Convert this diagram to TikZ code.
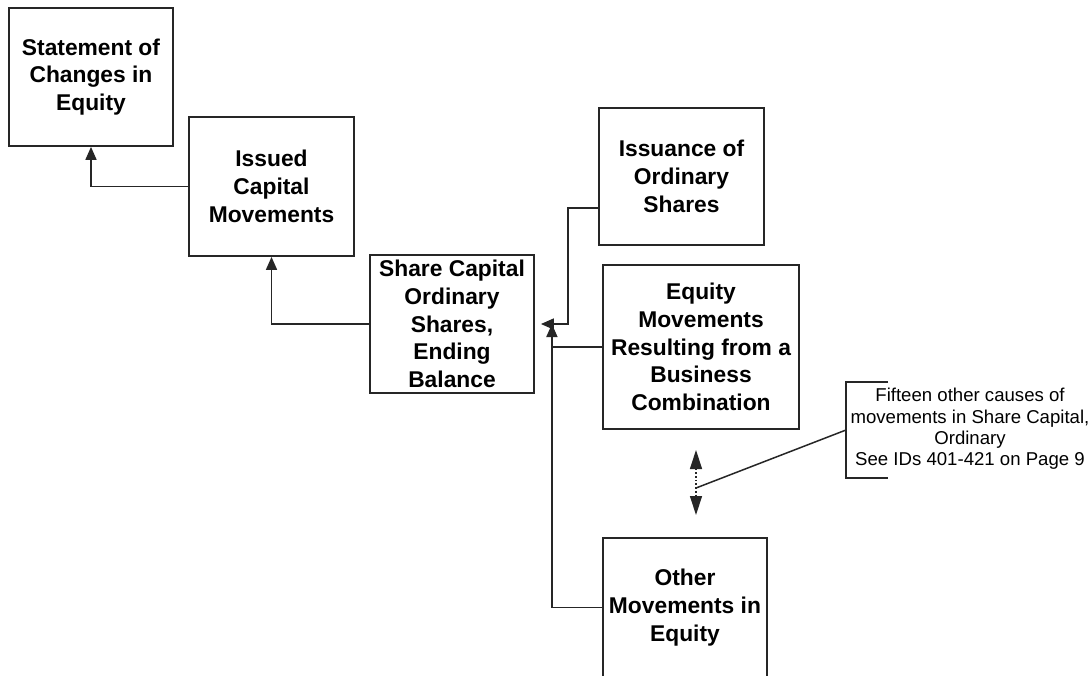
\documentclass[tikz,border=0pt]{standalone}
\usepackage{fontspec}
\setmainfont{Liberation Sans}
\usetikzlibrary{arrows.meta}
\tikzset{
  bighead/.tip={Triangle[length=13pt,width=11pt]},
  longhead/.tip={Triangle[length=19pt,width=12pt]},
}
\begin{document}
\begin{tikzpicture}[x=1pt,y=-1pt,
  box/.style={draw=black!85, line width=1.8pt, inner sep=0pt, align=center,
    font=\bfseries\fontsize{22.8}{27.8}\selectfont},
  link/.style={draw=black!85, line width=1.7pt},
  arr/.style={link, -bighead},
  note/.style={inner sep=0pt, align=center, font=\fontsize{18.6}{21.3}\selectfont},
]
\clip (0,0) rectangle (1092,675);
\fill[white] (0,0) rectangle (1092,675);

% boxes
\node[box, minimum width=164pt, minimum height=138pt] (stmt) at (91,77)
  {Statement of\\Changes in\\Equity};
\node[box, minimum width=165pt, minimum height=139pt] (issued) at (271.5,186.5)
  {Issued\\Capital\\Movements};
\node[box, minimum width=164pt, minimum height=138pt] (share) at (452,324)
  {Share Capital\\Ordinary\\Shares,\\Ending\\Balance};
\node[box, minimum width=165pt, minimum height=137pt] (issuance) at (681.5,176.5)
  {Issuance of\\Ordinary\\Shares};
\node[box, minimum width=196pt, minimum height=164pt] (equity) at (701,347)
  {Equity\\Movements\\Resulting from a\\Business\\Combination};
\node[box, minimum width=164pt, minimum height=139pt] (other) at (685,607.5)
  {Other\\Movements in\\Equity};

% roll-up connectors
\draw[arr] (issued.west) -| (stmt.south);
\draw[arr] (share.west) -| (issued.south);
\coordinate (joinL) at ([xshift=6pt]share.east);
\coordinate (joinU) at ([xshift=17pt]share.east);
\draw[arr] ([yshift=-31.5pt]issuance.west) -- ++(-30,0) |- (joinL);
\draw[arr] (other.west) -| (joinU);
\draw[link] (equity.west) -- (equity.west -| joinU);

% omitted items marker
\coordinate (dtop) at (696,450);
\coordinate (dbot) at (696,515);
\coordinate (dmid) at (696,488);
\draw[link, dotted, line width=1.3pt, longhead-longhead] (dtop) -- (dbot);

% annotation bracket
\node[note] (ann) at (970,429)
  {Fifteen other causes of\\movements in Share Capital,\\Ordinary\\See IDs 401-421 on Page 9};
\coordinate (bt) at (888,382);
\coordinate (bb) at (888,478);
\coordinate (bl) at (846,430);
\draw[link, line width=1.5pt] (bt) -- (bt -| bl) -- (bb -| bl) -- (bb);
\draw[link, line width=1.5pt] (dmid) -- (bl);
\end{tikzpicture}
\end{document}
